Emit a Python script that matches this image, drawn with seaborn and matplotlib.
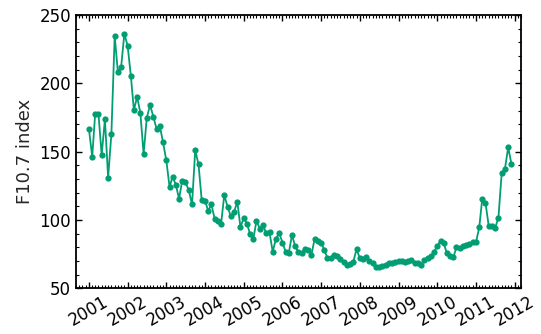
import numpy as np
import pandas as pd
import matplotlib
matplotlib.use("Agg")
import matplotlib.pyplot as plt
import matplotlib.dates as mdates
from matplotlib.ticker import MultipleLocator
import seaborn as sns

# Monthly F10.7 index values, Jan 2001 .. Dec 2011
f107_2001 = [166.6, 146.3, 177.6, 177.8, 147.6, 173.7, 131.0, 163.0, 234.7, 208.3, 212.0, 236.2]
f107_2002 = [227.6, 205.2, 180.5, 190.0, 178.5, 148.3, 174.9, 184.0, 175.6, 166.8, 168.8, 156.9]
f107_2003 = [143.7, 124.0, 131.7, 125.8, 115.6, 128.8, 127.6, 121.7, 111.5, 151.0, 140.8, 114.6]
f107_2004 = [114.1, 106.6, 111.5, 101.0, 99.3, 97.1, 118.3, 109.7, 102.7, 105.6, 113.4, 94.7]
f107_2005 = [101.7, 97.1, 89.9, 86.0, 99.4, 93.7, 96.5, 90.2, 90.9, 76.8, 86.3, 90.6]
f107_2006 = [83.5, 76.5, 75.5, 89.0, 80.9, 76.5, 75.8, 79.0, 77.8, 74.3, 86.3, 84.5]
f107_2007 = [83.5, 77.8, 72.3, 72.4, 74.3, 73.7, 71.6, 69.0, 67.1, 67.6, 69.5, 78.6]
f107_2008 = [72.1, 71.2, 72.9, 70.2, 68.4, 65.9, 65.7, 66.3, 67.1, 68.3, 68.6, 69.2]
f107_2009 = [69.8, 70.0, 69.2, 69.7, 70.5, 68.6, 68.2, 67.4, 70.5, 72.5, 73.6, 76.7]
f107_2010 = [81.0, 84.7, 83.3, 75.9, 73.8, 72.6, 79.9, 79.7, 81.3, 81.7, 82.6, 84.1]
f107_2011 = [83.6, 94.5, 115.3, 112.6, 95.8, 95.8, 94.2, 101.7, 134.5, 137.2, 153.1, 141.3]

values = (f107_2001 + f107_2002 + f107_2003 + f107_2004 + f107_2005 + f107_2006
          + f107_2007 + f107_2008 + f107_2009 + f107_2010 + f107_2011)
dates = pd.date_range("2001-01-01", periods=len(values), freq="MS")
df = pd.DataFrame({"date": dates, "F10.7": values})

sns.set_style("ticks")
plt.rcParams["font.family"] = ["DejaVu Sans"]

fig = plt.figure(figsize=(5.41, 3.34), dpi=100)
ax = fig.add_axes([76 / 541, 1 - 288.3 / 334, (521 - 76) / 541, (288.3 - 15) / 334])

sns.lineplot(data=df, x="date", y="F10.7", ax=ax, color="#029e73",
             marker="o", markersize=4.5, markeredgewidth=0, linewidth=1.3)

ax.set_xlim(pd.Timestamp("2000-09-01"), pd.Timestamp("2012-03-01"))
ax.set_ylim(50, 250)
ax.yaxis.set_major_locator(MultipleLocator(50))
ax.yaxis.set_minor_locator(MultipleLocator(10))
ax.xaxis.set_major_locator(mdates.YearLocator())
ax.xaxis.set_minor_locator(mdates.MonthLocator())
ax.xaxis.set_major_formatter(mdates.DateFormatter("%Y"))

ax.set_xlabel("")
ax.set_ylabel("F10.7 index", fontsize=13)
for s in ax.spines.values():
    s.set_visible(True)
    s.set_linewidth(1.3)
    s.set_color("black")
ax.tick_params(which="both", direction="in", top=True, right=True, colors="black")
ax.tick_params(which="major", length=4.5, width=1.0, labelsize=12)
ax.tick_params(which="minor", length=2.2, width=0.8)
plt.setp(ax.get_xticklabels(), rotation=30, ha="center")

fig.savefig("out.png", dpi=100)
